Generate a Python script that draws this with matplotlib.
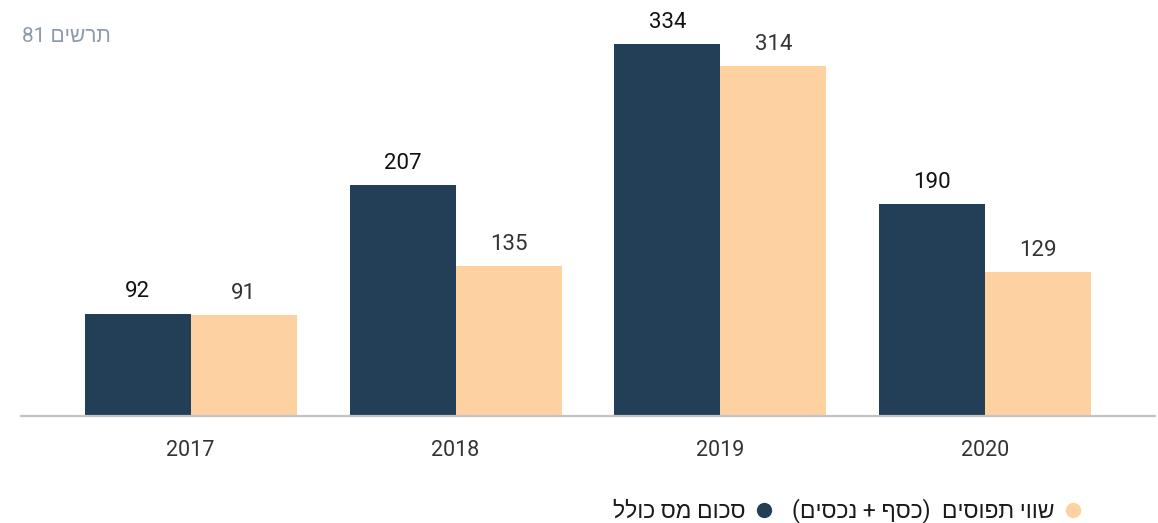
import matplotlib.pyplot as plt
from matplotlib.lines import Line2D

# data
years = ['2017', '2018', '2019', '2020']
total_tax = [92, 207, 334, 190]        # סכום מס כולל
seized_value = [91, 135, 314, 129]     # שווי תפוסים (כסף + נכסים)

# Hebrew strings in visual (left-to-right) order, matplotlib has no bidi
title = '81 ' + 'תרשים'[::-1]
label_tax = 'סכום מס כולל'[::-1]
label_seized = '(' + 'נכסים'[::-1] + ' + ' + 'כסף'[::-1] + ')  ' + 'שווי תפוסים'[::-1]

dark = '#233f58'
peach = '#fed1a1'
fonts = ['Roboto', 'Liberation Sans', 'DejaVu Sans']
plt.rcParams['font.family'] = fonts

fig = plt.figure(figsize=(11.58, 5.23), dpi=100)
ax = fig.add_axes([21 / 1158, 107 / 523, (1155 - 21) / 1158, (416 - 44) / 523])

x = range(len(years))
w = 0.4
b1 = ax.bar([i - w / 2 for i in x], total_tax, w, color=dark)
b2 = ax.bar([i + w / 2 for i in x], seized_value, w, color=peach)
ax.bar_label(b1, padding=8, fontsize=16, color='#111111')
ax.bar_label(b2, padding=8, fontsize=16, color='#333333')

ax.set_xlim(-0.64, 3.64)
ax.set_ylim(0, 334)
ax.set_xticks(list(x))
ax.set_xticklabels(years, fontsize=15.5, color='#333333')
ax.tick_params(axis='x', length=0, pad=17)
ax.set_yticks([])
for s in ['top', 'right', 'left']:
    ax.spines[s].set_visible(False)
ax.spines['bottom'].set_color('#c4c4c4')
ax.spines['bottom'].set_linewidth(1.6)

fig.text(22 / 1158, 1 - 36 / 523, title, fontsize=15, color='#8d9aa8',
         ha='left', va='center')

handles = [Line2D([], [], marker='o', linestyle='', color=dark, markersize=10),
           Line2D([], [], marker='o', linestyle='', color=peach, markersize=10)]
fig.legend(handles, [label_tax, label_seized], ncol=2, markerfirst=False,
           loc='center', bbox_to_anchor=(848 / 1158, 1 - 511 / 523),
           frameon=False, fontsize=16.5, handlelength=0.9, handletextpad=0.35,
           columnspacing=0.8, labelcolor='#1a1a1a', borderaxespad=0)

plt.savefig('out.png', dpi=100)
